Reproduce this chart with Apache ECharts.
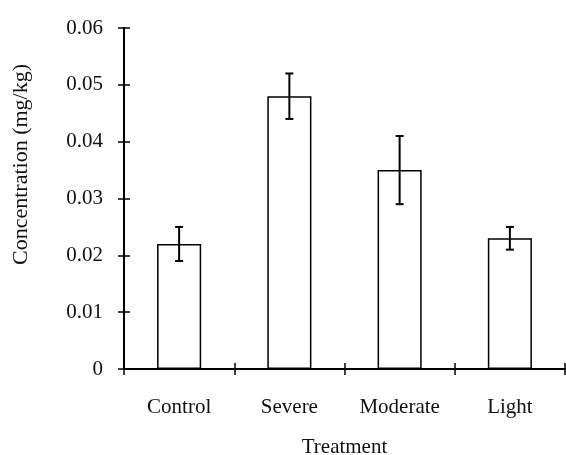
<!DOCTYPE html>
<html>
<head>
<meta charset="utf-8">
<script src="https://cdn.jsdelivr.net/npm/echarts@6/dist/echarts.min.js"></script>
<style>html,body{margin:0;padding:0;background:#fff}#c{width:566px;height:455px}</style>
</head>
<body>
<div id="c"></div>
<script>
const categories = ['Control', 'Severe', 'Moderate', 'Light'];
const means = [0.022, 0.048, 0.035, 0.023];
const errLow = [0.019, 0.044, 0.029, 0.021];
const errHigh = [0.025, 0.052, 0.041, 0.025];
const yTicks = [0, 0.01, 0.02, 0.03, 0.04, 0.05, 0.06];

const FONT = 'Liberation Serif';
const GRID = {left: 124, right: 1, top: 28, bottom: 86, containLabel: false, outerBoundsMode: 'none'};
const chart = echarts.init(document.getElementById('c'), null, {renderer: 'canvas'});

const errData = categories.map((c, i) => [i, errLow[i], errHigh[i]]);
const fmt = v => { const t = yTicks.find(x => Math.abs(x - v) < 1e-9); return t === 0 ? '0' : t.toFixed(2); };

chart.setOption({
  animation: false,
  backgroundColor: '#fff',
  grid: [Object.assign({}, GRID), Object.assign({}, GRID)],
  xAxis: [{
    gridIndex: 0,
    type: 'category',
    data: categories,
    name: 'Treatment',
    nameLocation: 'middle',
    nameGap: 68,
    nameTextStyle: {fontFamily: FONT, fontSize: 21, color: '#111'},
    axisLine: {show: true, lineStyle: {color: '#000', width: 2}},
    axisTick: {show: true, length: 6, inside: false, lineStyle: {color: '#000', width: 1.5}},
    axisLabel: {fontFamily: FONT, fontSize: 21, color: '#111', margin: 28},
    splitLine: {show: false}
  }, {
    gridIndex: 1,
    type: 'category',
    data: categories,
    axisLine: {show: false},
    axisTick: {show: true, length: 6, inside: true, lineStyle: {color: '#000', width: 1.5}},
    axisLabel: {show: false},
    splitLine: {show: false}
  }],
  yAxis: [{
    gridIndex: 0,
    type: 'value',
    min: 0, max: 0.06, interval: 0.01,
    name: 'Concentration (mg/kg)',
    nameLocation: 'middle',
    nameGap: 92,
    nameRotate: 90,
    nameTextStyle: {fontFamily: FONT, fontSize: 22, color: '#111', padding: [0, 0, 0, 68]},
    axisLine: {show: true, lineStyle: {color: '#000', width: 2}},
    axisTick: {show: true, length: 6, inside: false, lineStyle: {color: '#000', width: 1.5}},
    axisLabel: {fontFamily: FONT, fontSize: 21, color: '#111', margin: 21, formatter: fmt},
    splitLine: {show: false}
  }, {
    gridIndex: 1,
    type: 'value',
    min: 0, max: 0.06, interval: 0.01,
    axisLine: {show: false},
    axisTick: {show: true, length: 6, inside: true, lineStyle: {color: '#000', width: 1.5}},
    axisLabel: {show: false},
    splitLine: {show: false}
  }],
  series: [{
    type: 'bar',
    data: means,
    barWidth: '40%',
    itemStyle: {color: '#fff', borderColor: '#000', borderWidth: 1.5},
    z: 2
  }, {
    type: 'custom',
    data: errData,
    z: 3,
    renderItem: function (params, api) {
      const x = api.value(0);
      const lo = api.coord([x, api.value(1)]);
      const hi = api.coord([x, api.value(2)]);
      const hw = 4;
      const style = {stroke: '#000', lineWidth: 2, fill: null};
      return {
        type: 'group',
        children: [
          {type: 'line', shape: {x1: hi[0], y1: hi[1], x2: lo[0], y2: lo[1]}, style: style},
          {type: 'line', shape: {x1: hi[0] - hw, y1: hi[1], x2: hi[0] + hw, y2: hi[1]}, style: style},
          {type: 'line', shape: {x1: lo[0] - hw, y1: lo[1], x2: lo[0] + hw, y2: lo[1]}, style: style}
        ]
      };
    }
  }, {
    type: 'line',
    xAxisIndex: 1,
    yAxisIndex: 1,
    data: means,
    showSymbol: false,
    lineStyle: {opacity: 0},
    silent: true,
    z: 0
  }]
});
</script>
</body>
</html>
